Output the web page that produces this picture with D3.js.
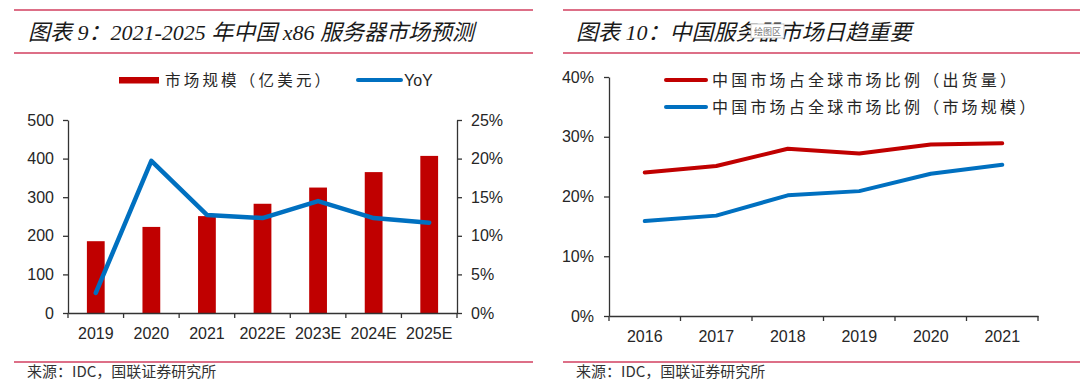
<!DOCTYPE html>
<html>
<head>
<meta charset="utf-8">
<script src="https://cdn.jsdelivr.net/npm/d3@7"></script>
<style>
  body { margin: 0; background: #fff; }
  svg { display: block; }
  .axis text { font-family: "Liberation Sans", Arial, sans-serif; font-size: 16px; fill: #262626; }
  .axis path, .axis line { stroke: #333; stroke-width: 1.3; }
</style>
</head>
<body>
<div id="chart"></div>
<script>
// chart 9 data
const yearsL = ['2019', '2020', '2021', '2022E', '2023E', '2024E', '2025E']
const marketSize = [186, 223, 251, 283, 325, 365, 407]
const yoy = [0.026, 0.197, 0.127, 0.123, 0.145, 0.123, 0.117]
const sizeTicks = [0, 100, 200, 300, 400, 500]
const yoyTicks = [0, 0.05, 0.10, 0.15, 0.20, 0.25]

// chart 10 data
const yearsR = ['2016', '2017', '2018', '2019', '2020', '2021']
const shipShare = [0.240, 0.251, 0.280, 0.272, 0.287, 0.289]
const sizeShare = [0.159, 0.168, 0.202, 0.209, 0.238, 0.253]
const shareTicks = [0, 0.1, 0.2, 0.3, 0.4]

const red = '#c00000'
const blue = '#0070c0'
const pink = '#dd6f87'

var width = 1080;
var height = 387;
var svg = d3.select('#chart')
    .append('svg')
    .attr('width', width)
    .attr('height', height);

svg.append('rect').attr('width', width).attr('height', height).attr('fill', '#fff')

// frame lines (title band + footer)
function hline(x1, x2, y) {
    svg.append('line')
        .attr('x1', x1).attr('x2', x2).attr('y1', y).attr('y2', y)
        .attr('stroke', pink).attr('stroke-width', 2)
}
hline(14, 533, 10); hline(14, 533, 53); hline(14, 533, 362)
hline(563, 1080, 10); hline(563, 1080, 53); hline(563, 1080, 362)

function title(x, txt) {
    svg.append('text')
        .attr('x', x).attr('y', 40)
        .attr('font-family', '"Liberation Serif", "Noto Sans CJK SC", serif')
        .attr('font-style', 'italic')
        .attr('font-size', 22)
        .attr('fill', '#1a1a1a')
        .text(txt)
}
title(28, '图表 9：2021-2025 年中国 x86 服务器市场预测')
title(576, '图表 10：中国服务器市场日趋重要')

// the little "绘图区" tooltip sitting on top of the right title
svg.append('rect').attr('x', 751).attr('y', 24).attr('width', 33).attr('height', 14)
    .attr('fill', '#fff').attr('stroke', '#bbb').attr('stroke-width', 0.8)
svg.append('text').attr('x', 767.5).attr('y', 34.5).attr('text-anchor', 'middle')
    .attr('font-family', '"Noto Sans CJK SC", sans-serif').attr('font-size', 9)
    .attr('fill', '#777').text('绘图区')

function footer(x) {
    svg.append('text')
        .attr('x', x).attr('y', 377)
        .attr('font-family', '"Noto Sans CJK SC", sans-serif')
        .attr('font-size', 15)
        .attr('fill', '#333')
        .text('来源：IDC，国联证券研究所')
}
footer(27)
footer(576)

// ---------------- chart 9 ----------------
const xL = d3.scaleBand()
    .domain(yearsL)
    .range([68, 457])
    .paddingInner(0.68)
    .paddingOuter(0.34)

const yL = d3.scaleLinear().domain([0, 500]).range([313, 120])
const yY = d3.scaleLinear().domain([0, 0.25]).range([313, 120])

svg.selectAll('rect.bar')
    .data(marketSize)
    .enter()
    .append('rect')
    .attr('class', 'bar')
    .attr('x', (d, i) => xL(yearsL[i]))
    .attr('y', d => yL(d))
    .attr('width', xL.bandwidth())
    .attr('height', d => yL(0) - yL(d))
    .attr('fill', red)

svg.append('g').attr('class', 'axis')
    .attr('transform', 'translate(68,0)')
    .call(d3.axisLeft(yL).tickValues(sizeTicks).tickSize(5).tickPadding(9).tickSizeOuter(0))

svg.append('g').attr('class', 'axis')
    .attr('transform', 'translate(457,0)')
    .call(d3.axisRight(yY).tickValues(yoyTicks).tickFormat(d3.format('.0%')).tickSize(5).tickPadding(9).tickSizeOuter(0))

const gxL = svg.append('g').attr('class', 'axis')
    .attr('transform', 'translate(0,313)')
    .call(d3.axisBottom(xL).tickSize(0).tickPadding(15).tickSizeOuter(0))
// ticks sit between categories
const boundsL = yearsL.map(d => xL(d) + xL.bandwidth() / 2 - xL.step() / 2)
boundsL.push(boundsL[boundsL.length - 1] + xL.step())
gxL.selectAll('line.bound')
    .data(boundsL)
    .enter()
    .append('line')
    .attr('class', 'bound')
    .attr('x1', d => d).attr('x2', d => d)
    .attr('y1', 0).attr('y2', 5)

svg.append('path')
    .datum(yoy)
    .attr('fill', 'none')
    .attr('stroke', blue)
    .attr('stroke-width', 4.5)
    .attr('stroke-linejoin', 'round')
    .attr('stroke-linecap', 'round')
    .attr('d', d3.line()
        .x((d, i) => xL(yearsL[i]) + xL.bandwidth() / 2)
        .y(d => yY(d)))

// legend
svg.append('rect').attr('x', 119).attr('y', 77).attr('width', 40).attr('height', 6.5).attr('fill', red)
svg.append('text').attr('x', 165).attr('y', 80).attr('dy', '0.36em')
    .attr('font-family', '"Noto Sans CJK SC", sans-serif').attr('font-size', 15.5)
    .attr('letter-spacing', 3.2).attr('fill', '#262626').text('市场规模（亿美元）')
svg.append('line').attr('x1', 358).attr('x2', 401).attr('y1', 80).attr('y2', 80)
    .attr('stroke', blue).attr('stroke-width', 4).attr('stroke-linecap', 'round')
svg.append('text').attr('x', 404).attr('y', 80).attr('dy', '0.36em')
    .attr('font-family', '"Liberation Sans", Arial, sans-serif').attr('font-size', 16)
    .attr('fill', '#262626').text('YoY')

// ---------------- chart 10 ----------------
const xR = d3.scaleBand().domain(yearsR).range([609, 1038])
const yS = d3.scaleLinear().domain([0, 0.4]).range([316, 77])

svg.append('g').attr('class', 'axis')
    .attr('transform', 'translate(609,0)')
    .call(d3.axisLeft(yS).tickValues(shareTicks).tickFormat(d3.format('.0%')).tickSize(5).tickPadding(10).tickSizeOuter(0))

const gxR = svg.append('g').attr('class', 'axis')
    .attr('transform', 'translate(0,316)')
    .call(d3.axisBottom(xR).tickSize(0).tickPadding(15).tickSizeOuter(0))
const boundsR = yearsR.map(d => xR(d))
boundsR.push(xR.range()[1])
gxR.selectAll('line.bound')
    .data(boundsR)
    .enter()
    .append('line')
    .attr('class', 'bound')
    .attr('x1', d => d).attr('x2', d => d)
    .attr('y1', 0).attr('y2', 5)

const lineR = d3.line()
    .x((d, i) => xR(yearsR[i]) + xR.bandwidth() / 2)
    .y(d => yS(d))

const seriesR = [
    {name: '中国市场占全球市场比例（出货量）', values: shipShare, color: red},
    {name: '中国市场占全球市场比例（市场规模）', values: sizeShare, color: blue}
]

svg.selectAll('path.share')
    .data(seriesR)
    .enter()
    .append('path')
    .attr('class', 'share')
    .attr('fill', 'none')
    .attr('stroke', d => d.color)
    .attr('stroke-width', 4)
    .attr('stroke-linejoin', 'round')
    .attr('stroke-linecap', 'round')
    .attr('d', d => lineR(d.values))

const legR = svg.selectAll('g.legR')
    .data(seriesR)
    .enter()
    .append('g')
    .attr('class', 'legR')
    .attr('transform', (d, i) => 'translate(0,' + (80 + i * 27) + ')')
legR.append('line')
    .attr('x1', 666).attr('x2', 706)
    .attr('stroke', d => d.color).attr('stroke-width', 4).attr('stroke-linecap', 'round')
legR.append('text')
    .attr('x', 712).attr('dy', '0.36em')
    .attr('font-family', '"Noto Sans CJK SC", sans-serif').attr('font-size', 16)
    .attr('letter-spacing', 3.2).attr('fill', '#262626')
    .text(d => d.name)
</script>
</body>
</html>
